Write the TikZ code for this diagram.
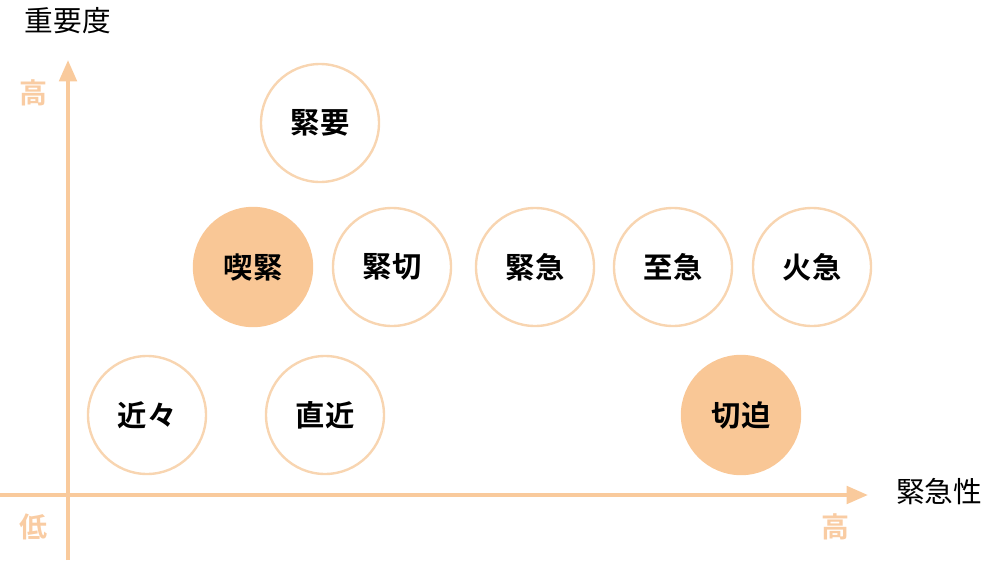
\documentclass[tikz,border=0pt]{standalone}
\usepackage{fontspec}
\usepackage{tikz}
\usetikzlibrary{arrows.meta}
\setmainfont{Noto Sans CJK JP}
\newfontfamily\jpbold{Noto Sans CJK JP Bold}

\definecolor{peach}{HTML}{F9CA9C}
\definecolor{peachtext}{HTML}{F9CCA3}
\definecolor{peachline}{HTML}{F8D5B1}
\definecolor{peachfill}{HTML}{F9C796}

\tikzset{
  word/.style={circle,draw=peachline,line width=1.8pt,minimum size=88.5pt,
    inner sep=0pt,font=\jpbold\fontsize{22}{22}\selectfont,text=black},
  hot/.style={word,fill=peachfill,draw=peachfill},
  level/.style={font=\jpbold\fontsize{21}{21}\selectfont,text=peachtext},
  axislabel/.style={font=\fontsize{21.5}{21.5}\selectfont,text=black},
  axisline/.style={draw=peach,line width=3pt,-{Triangle[length=16pt,width=13pt]}}
}

\begin{document}
\begin{tikzpicture}[x=0.75pt,y=-0.75pt]
\useasboundingbox (0,0) rectangle (990,564);

% axes
\coordinate (ybot) at (68,560);
\coordinate (ytop) at (68,60);
\coordinate (xleft) at (0,495);
\coordinate (xright) at (868,495);
\draw[axisline] (ybot) -- (ytop);
\draw[axisline] (xleft) -- (xright);

\node[axislabel] (importance) at (68,21) {重要度};
\node[axislabel] (urgency) at (939,492) {緊急性};
\node[level] (yhigh) at (33,93) {高};
\node[level] (low) at (33,527) {低};
\node[level] (xhigh) at (835,527) {高};

% words
\node[word] (kinyo) at (320,123) {緊要};

\node[hot] (kikkin) at (253,267) {喫緊};
\node[word] (kinsetsu) at (392,267) {緊切};
\node[word] (kinkyu) at (535,267) {緊急};
\node[word] (shikyu) at (673,267) {至急};
\node[word] (kakyu) at (812,267) {火急};

\node[word] (kinkin) at (147,415) {近々};
\node[word] (chokkin) at (325,415) {直近};
\node[hot] (seppaku) at (741,415) {切迫};

\end{tikzpicture}
\end{document}
